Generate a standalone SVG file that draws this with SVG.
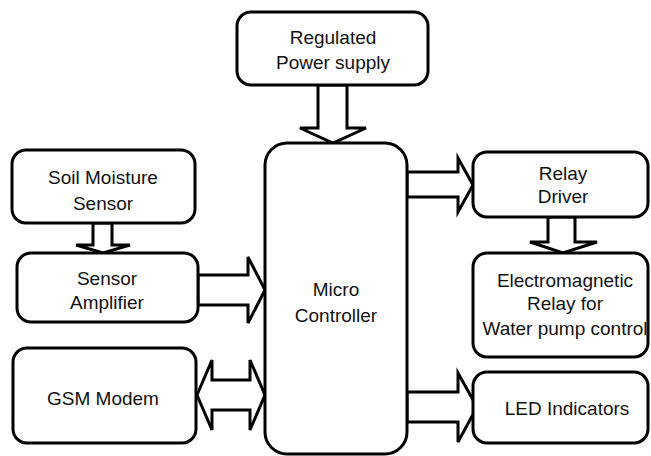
<svg xmlns="http://www.w3.org/2000/svg" width="651" height="456" viewBox="0 0 651 456">
<style>
.box{fill:#fff;stroke:#000;stroke-width:3}
.arr{fill:#fff;stroke:#000;stroke-width:3;stroke-linejoin:miter}
text{font-family:"Liberation Sans",Arial,sans-serif;font-size:19px;fill:#111;text-anchor:middle;dominant-baseline:central}
</style>
<rect width="651" height="456" fill="#fff"/>
<g id="connectors">
<polygon class="arr" points="318,85 318,128 300,128 333,143 366,128 347,128 347,85"/>
<polygon class="arr" points="93,223 93,245 76,245 103,253 130,245 112,245 112,223"/>
<polygon class="arr" points="198,275 248,275 248,257 265,290 248,323 248,305 198,305"/>
<polygon class="arr" points="197,395 212,360 212,380 250,380 250,360 265,395 250,430 250,410 212,410 212,430"/>
<polygon class="arr" points="407,172 458,172 458,158 473,185 458,212 458,197 407,197"/>
<polygon class="arr" points="548,217 548,242 530,242 563,253 597,242 575,242 575,217"/>
<polygon class="arr" points="407,392 458,392 458,373 477,407 458,442 458,422 407,422"/>
</g>
<g id="power"><rect class="box" x="237" y="12" width="191" height="73" rx="14"/><text x="333" y="37">Regulated</text><text x="333" y="62">Power supply</text></g>
<g id="soil"><rect class="box" x="12" y="150" width="183" height="73" rx="14"/><text x="103" y="177">Soil Moisture</text><text x="103" y="203">Sensor</text></g>
<g id="amp"><rect class="box" x="17" y="253" width="181" height="69" rx="14"/><text x="107" y="278">Sensor</text><text x="107" y="302">Amplifier</text></g>
<g id="gsm"><rect class="box" x="13" y="348" width="183" height="95" rx="14"/><text x="103" y="398">GSM Modem</text></g>
<g id="mc"><rect class="box" x="265" y="143" width="142" height="311" rx="22"/><text x="336" y="289">Micro</text><text x="336" y="315">Controller</text></g>
<g id="relay"><rect class="box" x="473" y="152" width="175" height="65" rx="14"/><text x="563" y="173">Relay</text><text x="563" y="196">Driver</text></g>
<g id="em"><rect class="box" x="473" y="253" width="175" height="104" rx="14"/><text x="565" y="280">Electromagnetic</text><text x="565" y="303">Relay for</text><text x="565" y="328">Water pump control</text></g>
<g id="led"><rect class="box" x="473" y="372" width="175" height="71" rx="14"/><text x="567" y="408">LED Indicators</text></g>
</svg>
